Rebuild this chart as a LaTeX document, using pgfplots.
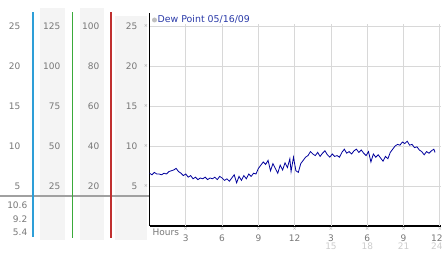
\documentclass[border=0pt]{standalone}
\usepackage{pgfplots}
\usepackage{pgfplotstable}
\pgfplotsset{compat=1.18}
\usepackage{fontspec}
\setmainfont{DejaVu Sans}
\definecolor{numgray}{HTML}{777777}
\definecolor{lightnum}{HTML}{CCCCCC}
\definecolor{colbg}{HTML}{F4F4F4}
\definecolor{gridc}{HTML}{D8D8D8}
\definecolor{scalecyan}{HTML}{2E9FD8}
\definecolor{scalegreen}{HTML}{3AAA3A}
\definecolor{scalered}{HTML}{C03030}
\definecolor{titleblue}{HTML}{2A3AA8}
\definecolor{lineblue}{HTML}{00009C}
\definecolor{sepgray}{HTML}{A0A0A0}
\pgfplotstableread{
h v
0.0 6.6
0.2 6.4
0.4 6.7
0.6 6.5
0.8 6.5
1.0 6.4
1.2 6.6
1.4 6.5
1.6 6.8
1.8 6.9
2.0 7.0
2.2 7.2
2.4 6.8
2.6 6.6
2.8 6.3
3.0 6.5
3.2 6.1
3.4 6.3
3.6 5.9
3.8 6.1
4.0 5.8
4.2 6.0
4.4 5.9
4.6 6.1
4.8 5.8
5.0 6.0
5.2 5.9
5.4 6.1
5.6 5.8
5.8 6.2
6.0 6.0
6.2 5.7
6.4 5.9
6.6 5.6
6.8 6.0
7.0 6.4
7.2 5.4
7.4 6.2
7.6 5.7
7.8 6.3
8.0 5.9
8.2 6.5
8.4 6.2
8.6 6.6
8.8 6.5
9.0 7.2
9.2 7.6
9.4 8.0
9.6 7.7
9.8 8.2
10.0 6.9
10.2 7.8
10.4 7.2
10.6 6.6
10.8 7.6
11.0 7.0
11.2 7.9
11.4 7.3
11.6 8.4
11.7 6.8
11.9 8.6
12.1 6.9
12.3 6.7
12.5 7.8
12.7 8.2
12.9 8.6
13.1 8.8
13.3 9.3
13.5 9.0
13.7 8.8
13.9 9.2
14.1 8.7
14.3 9.1
14.5 9.4
14.7 8.9
14.9 8.6
15.1 9.0
15.3 8.7
15.5 8.8
15.7 8.6
15.9 9.2
16.1 9.6
16.3 9.1
16.5 9.3
16.7 9.0
16.9 9.4
17.1 9.6
17.3 9.2
17.5 9.5
17.7 9.1
17.9 8.8
18.1 9.3
18.3 8.0
18.5 9.0
18.7 8.6
18.9 8.9
19.1 8.5
19.3 8.1
19.5 8.7
19.7 8.4
19.9 9.2
20.1 9.6
20.3 10.0
20.5 10.2
20.7 10.1
20.9 10.5
21.1 10.3
21.3 10.6
21.5 10.1
21.7 10.2
21.9 9.8
22.1 9.9
22.3 9.5
22.5 9.3
22.7 8.9
22.9 9.3
23.1 9.1
23.3 9.4
23.5 9.6
23.6 9.2
}\dewtable
\newcommand\mk{{\fontsize{5}{5}\selectfont\color{gray!70}×}}
\begin{document}
\begin{tikzpicture}[x=1pt,y=1pt,font=\fontsize{9}{8}\selectfont]
\useasboundingbox (0,0) rectangle (442,253);
% column backgrounds
\fill[colbg] (40,13) rectangle (65,245);
\fill[colbg] (80,13) rectangle (104,245);
\fill[colbg] (115,13) rectangle (147,237);
% separator
\draw[sepgray, line width=2pt] (0,56.5) -- (149,56.5);
% coloured scale lines
\draw[scalecyan, line width=1.2pt] (33,16) -- (33,241);
\draw[scalegreen, line width=1.2pt] (72.5,15) -- (72.5,241);
\draw[scalered, line width=1.2pt] (111,15) -- (111,241);
% scale numbers
\foreach \va/\vb/\vc/\vd in {25/125/100/25, 20/100/80/20, 15/75/60/15, 10/50/40/10, 5/25/20/5}{
  \node[anchor=east, text=numgray, inner sep=0] at (20.5, 27+8*\va) {\va};
  \node[anchor=east, text=numgray, inner sep=0] at (60.5, 27+8*\va) {\vb};
  \node[anchor=east, text=numgray, inner sep=0] at (99.5, 27+8*\va) {\vc};
  \node[anchor=east, text=numgray, inner sep=0] at (137.5, 27+8*\va) {\vd};
}
\node[anchor=east, text=numgray, inner sep=0] at (27.5,48) {10.6};
\node[anchor=east, text=numgray, inner sep=0] at (27.5,34) {9.2};
\node[anchor=east, text=numgray, inner sep=0] at (27.5,21) {5.4};
% title
\fill[gray!50] (154.5,233) circle (2.5);
\node[anchor=west, text=titleblue, inner sep=0, font=\fontsize{9.4}{9}\selectfont] at (157.5,233.5) {Dew Point 05/16/09};
\node[anchor=west, text=numgray, inner sep=0] at (152.5,21) {Hours};
\begin{axis}[
  at={(149.5pt,27pt)}, anchor=origin,
  scale only axis, width=291.6pt, height=212.8pt,
  xmin=0, xmax=24.1, ymin=0, ymax=26.6,
  axis lines*=left,
  axis line style={-, black, line width=1.2pt},
  clip mode=individual,
  ymajorgrids, grid style={gridc, line width=0.8pt},
  ytick={5,10,15,20,25}, yticklabels={},
  xtick={3,6,9,12,15,18,21,24},
  xticklabels={3,6,9,12,{3\\\textcolor{lightnum}{15}},{6\\\textcolor{lightnum}{18}},{9\\\textcolor{lightnum}{21}},{\hspace*{-6pt}12\\\hspace*{-6pt}\textcolor{lightnum}{24}}},
  xticklabel style={align=center, text=numgray, font=\fontsize{9}{8}\selectfont, yshift=-5.5pt},
  major tick length=0pt,
]
\pgfplotsinvokeforeach{3,6,9,12,15,18,21,24}{
  \draw[gridc, line width=0.8pt] (axis cs:#1,0) -- (axis cs:#1,25.3);
  \node[inner sep=0] at (axis cs:#1,0) [yshift=-3.5pt] {\mk};
}
\pgfplotsinvokeforeach{5,10,15,20,25}{
  \node[inner sep=0] at (axis cs:0,#1) [xshift=-3.5pt] {\mk};
}
\addplot[lineblue, line width=0.8pt, no marks] table[x=h, y=v] {\dewtable};
\end{axis}
\end{tikzpicture}
\end{document}
